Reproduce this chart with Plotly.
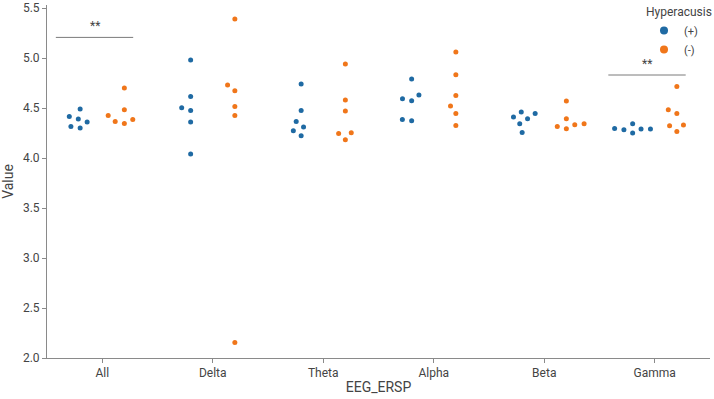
import numpy as np
import plotly.graph_objects as go

# ---- data ----
categories = ["All", "Delta", "Theta", "Alpha", "Beta", "Gamma"]
hyper_pos = [  # Hyperacusis (+)
    [4.49, 4.39, 4.416, 4.36, 4.316, 4.30],
    [4.98, 4.616, 4.503, 4.476, 4.36, 4.04],
    [4.74, 4.476, 4.366, 4.31, 4.273, 4.223],
    [4.79, 4.63, 4.593, 4.573, 4.386, 4.373],
    [4.46, 4.446, 4.41, 4.393, 4.343, 4.256],
    [4.343, 4.296, 4.29, 4.29, 4.283, 4.25],
]
hyper_neg = [  # Hyperacusis (-)
    [4.70, 4.483, 4.426, 4.386, 4.366, 4.346],
    [5.39, 4.73, 4.673, 4.516, 4.426, 2.156],
    [4.94, 4.58, 4.47, 4.253, 4.246, 4.183],
    [5.06, 4.833, 4.626, 4.52, 4.446, 4.326],
    [4.57, 4.393, 4.343, 4.333, 4.316, 4.293],
    [4.716, 4.483, 4.446, 4.33, 4.323, 4.266],
]
series_names = ["(+)", "(-)"]
sig_categories = ["All", "Gamma"]
sig_levels = [5.206, 4.83]
sig_labels = ["**", "**"]

# ---- layout constants ----
W, H = 714, 399
ML, MR, MT, MB = 47, 0, 5, 41
XR = [-0.5, 5.5]
YR = [2.0, 2.0 + (H - MT - MB) / 100.0]
PX_PER_CAT = (W - ML - MR) / (XR[1] - XR[0])
PX_PER_VAL = (H - MT - MB) / (YR[1] - YR[0])
DOT_D = 9.0  # swarm spacing in px
DODGE = 0.2
COLORS = ["#1f6aa3", "#f0761a"]
FONT = "Roboto, Liberation Sans, sans-serif"
TXT = "#444444"
AX = "#8a8a8a"


def swarm_offsets(values, d):
    ys = np.asarray(values, dtype=float) * PX_PER_VAL
    order = np.argsort(ys, kind="stable")
    placed = []
    offs = np.zeros(len(ys))
    for idx in order:
        y = ys[idx]
        neigh = []
        for px, py in reversed(placed):
            if y - py < d:
                neigh.append((px, py))
            else:
                break
        cands = [0.0]
        left_first = True
        for px, py in neigh:
            dy = y - py
            dx = np.sqrt(max(d * d - dy * dy, 0.0)) * 1.05
            pair = [px - dx, px + dx] if left_first else [px + dx, px - dx]
            cands.extend(pair)
            left_first = not left_first
        cands = sorted(cands, key=abs)
        chosen = cands[-1]
        for c in cands:
            if all((c - px) ** 2 + (y - py) ** 2 >= d * d - 1e-6 for px, py in neigh):
                chosen = c
                break
        placed.append((chosen, y))
        offs[idx] = chosen
    return offs / PX_PER_CAT


fig = go.Figure()
for s, (name, data) in enumerate(zip(series_names, [hyper_pos, hyper_neg])):
    xs, ys = [], []
    shift = -DODGE if s == 0 else DODGE
    for ci, vals in enumerate(data):
        offs = swarm_offsets(vals, DOT_D)
        xs.extend(ci + shift + offs)
        ys.extend(vals)
    fig.add_trace(go.Scatter(
        x=xs, y=ys, mode="markers", name=name, showlegend=False,
        marker=dict(color=COLORS[s], size=5, line=dict(width=0)),
    ))
    fig.add_trace(go.Scatter(
        x=[None], y=[None], mode="markers", name=name,
        marker=dict(color=COLORS[s], size=8),
    ))

for cat, lvl, lab in zip(sig_categories, sig_levels, sig_labels):
    ci = categories.index(cat)
    fig.add_shape(type="line", xref="x", yref="y", x0=ci - 0.42, x1=ci + 0.28,
                  y0=lvl, y1=lvl, line=dict(color="#7a7a7a", width=1))
    fig.add_annotation(x=ci - 0.07, y=lvl, xref="x", yref="y", text=lab,
                       showarrow=False, yanchor="bottom", yshift=2,
                       font=dict(family=FONT, size=12, color=TXT))

fig.update_layout(
    width=W, height=H,
    margin=dict(l=ML, r=MR, t=MT, b=MB),
    paper_bgcolor="white", plot_bgcolor="white",
    font=dict(family=FONT, size=12, color=TXT),
    legend=dict(
        title=dict(text="Hyperacusis", font=dict(family=FONT, size=12, color=TXT)),
        x=0.901, xanchor="left", y=1.013, yanchor="top",
        bgcolor="rgba(0,0,0,0)", font=dict(family=FONT, size=11, color=TXT),
        itemwidth=30, tracegroupgap=0,
    ),
    xaxis=dict(
        range=XR, tickmode="array", tickvals=list(range(len(categories))),
        ticktext=categories, showgrid=False, zeroline=False,
        showline=True, linecolor=AX, linewidth=1,
        ticks="outside", ticklen=4, tickcolor=AX,
        title=dict(text="EEG_ERSP", standoff=2), automargin=False,
        tickfont=dict(family=FONT, size=12, color=TXT),
    ),
    yaxis=dict(
        range=YR, tickmode="array", tickvals=[2.0, 2.5, 3.0, 3.5, 4.0, 4.5, 5.0, 5.5],
        ticktext=["2.0", "2.5", "3.0", "3.5", "4.0", "4.5", "5.0", "5.5"],
        showgrid=False, zeroline=False,
        showline=True, linecolor=AX, linewidth=1,
        ticks="outside", ticklen=4, tickcolor=AX,
        title=dict(text="Value", standoff=6), automargin=False,
        tickfont=dict(family=FONT, size=12, color=TXT),
    ),
)

fig.write_html("out.html", config={"displayModeBar": False},
               post_script="document.body.style.margin='0';")
